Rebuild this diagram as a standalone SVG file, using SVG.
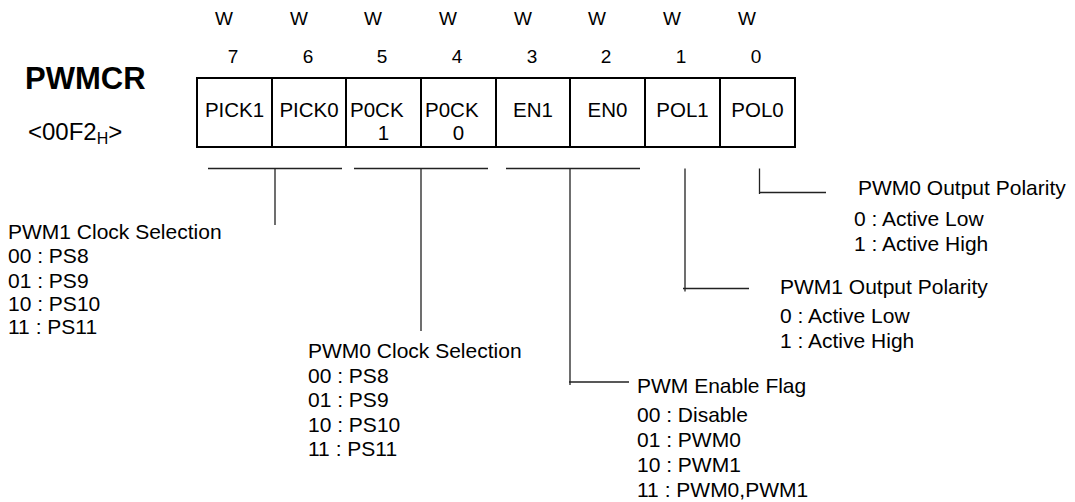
<svg xmlns="http://www.w3.org/2000/svg" width="1075" height="502" viewBox="0 0 1075 502">
<style>
text{font-family:"Liberation Sans",Arial,sans-serif;fill:#000}
.t{font-size:21px}
.h{font-size:19px;text-anchor:middle}
.c{font-size:20.5px;text-anchor:middle}
.p{font-size:20.5px}
.cell{fill:#fff;stroke:#000;stroke-width:2}
.ln{stroke:#222;stroke-width:1.3;fill:none}
</style>
<rect width="1075" height="502" fill="#fff"/>
<g id="title">
<text x="25" y="89" style="font-size:31px;font-weight:bold">PWMCR</text>
<text x="28" y="140" style="font-size:24px">&lt;00F2<tspan style="font-size:16px" dy="4">H</tspan><tspan dy="-4">&gt;</tspan></text>
</g>
<g id="access">
<text x="224" y="25" class="h">W</text><text x="299" y="25" class="h">W</text><text x="373" y="25" class="h">W</text><text x="448" y="25" class="h">W</text><text x="523" y="25" class="h">W</text><text x="597" y="25" class="h">W</text><text x="672" y="25" class="h">W</text><text x="747" y="25" class="h">W</text>
</g>
<g id="bitnums">
<text x="233" y="62.5" class="h">7</text><text x="308" y="62.5" class="h">6</text><text x="382" y="62.5" class="h">5</text><text x="457" y="62.5" class="h">4</text><text x="532" y="62.5" class="h">3</text><text x="606" y="62.5" class="h">2</text><text x="681" y="62.5" class="h">1</text><text x="756" y="62.5" class="h">0</text>
</g>
<g id="bit7"><rect class="cell" x="197" y="78" width="75" height="69"/><text x="234.5" y="117" class="c">PICK1</text></g>
<g id="bit6"><rect class="cell" x="272" y="78" width="74" height="69"/><text x="309" y="117" class="c">PICK0</text></g>
<g id="bit5"><rect class="cell" x="346" y="78" width="75" height="69"/><text x="350" y="117" class="p">P0CK</text><text x="383.5" y="140" class="c">1</text></g>
<g id="bit4"><rect class="cell" x="421" y="78" width="75" height="69"/><text x="425" y="117" class="p">P0CK</text><text x="458.5" y="140" class="c">0</text></g>
<g id="bit3"><rect class="cell" x="496" y="78" width="74" height="69"/><text x="533" y="117" class="c">EN1</text></g>
<g id="bit2"><rect class="cell" x="570" y="78" width="75" height="69"/><text x="607.5" y="117" class="c">EN0</text></g>
<g id="bit1"><rect class="cell" x="645" y="78" width="75" height="69"/><text x="682.5" y="117" class="c">POL1</text></g>
<g id="bit0"><rect class="cell" x="720" y="78" width="75" height="69"/><text x="757.5" y="117" class="c">POL0</text></g>
<g id="connectors">
<path class="ln" d="M208 168.5H342M275 168.5V225"/>
<path class="ln" d="M354 168.5H488M421 168.5V331"/>
<path class="ln" d="M506 168.5H640M570 168.5V385M569 382H629"/>
<path class="ln" d="M685 168.5V291.5M683 288.5H749"/>
<path class="ln" d="M759.5 168.5V194M759.5 192.5H826"/>
</g>
<g id="desc-pwm1clk">
<text x="8" y="239" class="t">PWM1 Clock Selection</text>
<text x="8" y="263" class="t">00 : PS8</text>
<text x="8" y="287.5" class="t">01 : PS9</text>
<text x="8" y="311" class="t">10 : PS10</text>
<text x="8" y="334" class="t">11 : PS11</text>
</g>
<g id="desc-pwm0clk">
<text x="308" y="358" class="t">PWM0 Clock Selection</text>
<text x="308" y="382.5" class="t">00 : PS8</text>
<text x="308" y="407" class="t">01 : PS9</text>
<text x="308" y="431.5" class="t">10 : PS10</text>
<text x="308" y="456" class="t">11 : PS11</text>
</g>
<g id="desc-en">
<text x="637" y="393" class="t">PWM Enable Flag</text>
<text x="637" y="421.5" class="t">00 : Disable</text>
<text x="637" y="446.5" class="t">01 : PWM0</text>
<text x="637" y="471.5" class="t">10 : PWM1</text>
<text x="637" y="496.5" class="t">11 : PWM0,PWM1</text>
</g>
<g id="desc-pol1">
<text x="780" y="294" class="t">PWM1 Output Polarity</text>
<text x="780" y="323" class="t">0 : Active Low</text>
<text x="780" y="348" class="t">1 : Active High</text>
</g>
<g id="desc-pol0">
<text x="858" y="195" class="t">PWM0 Output Polarity</text>
<text x="854" y="226" class="t">0 : Active Low</text>
<text x="854" y="250.5" class="t">1 : Active High</text>
</g>
</svg>
